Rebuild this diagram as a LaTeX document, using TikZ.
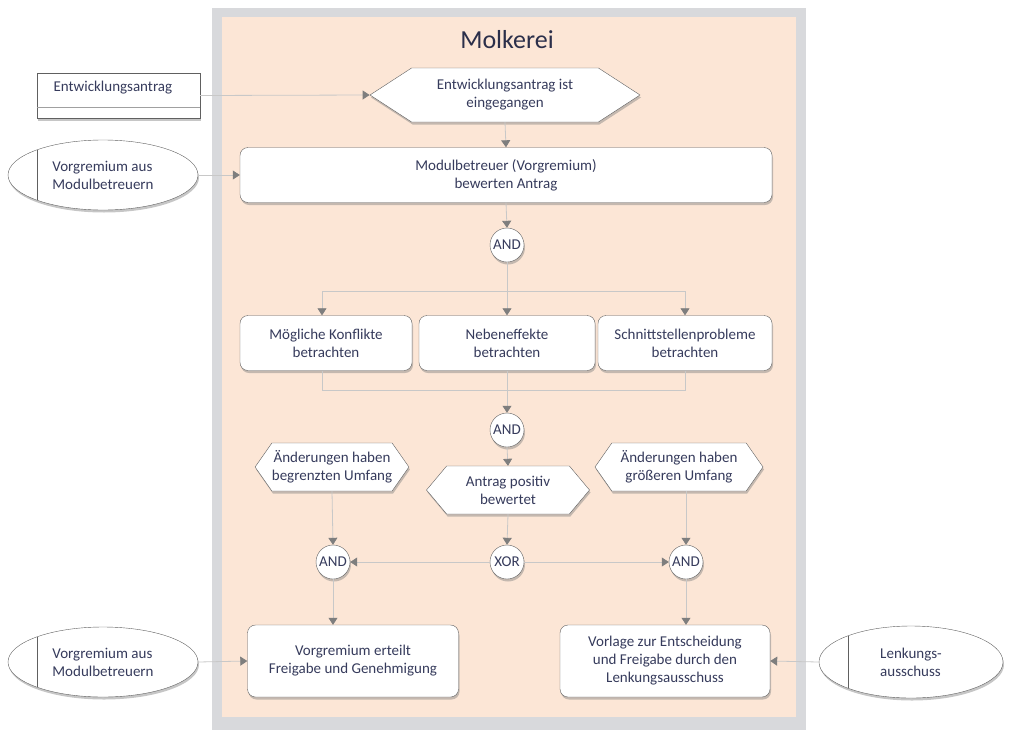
\documentclass[tikz,border=0pt]{standalone}
\usepackage{fontspec}
\setmainfont{Carlito}
\usetikzlibrary{shapes.geometric,shapes.symbols,arrows.meta,shadows,calc}
\definecolor{peach}{HTML}{FCE6D6}
\definecolor{framegray}{HTML}{D8D9DC}
\definecolor{txt}{HTML}{363B5C}
\definecolor{edgec}{HTML}{606060}
\definecolor{connc}{HTML}{C8C8C8}
\definecolor{tipc}{HTML}{7E7E7E}
\begin{document}
\begin{tikzpicture}[x=1pt,y=-1pt,
  font=\fontsize{15}{18}\selectfont, text=txt,
  shad/.style={drop shadow={opacity=0.45,shadow xshift=1pt,shadow yshift=-2.5pt}},
  proc/.style={draw=edgec, fill=white, rounded corners=8pt, align=center, shad, inner sep=2pt},
  hexa/.style={shape=signal, signal to=east and west, signal pointer angle=100, draw=edgec, fill=white, align=center, shad, inner xsep=0pt, inner ysep=1pt},
  gate/.style={circle, draw=edgec, fill=white, minimum size=34pt, inner sep=0pt, shad, font=\fontsize{15}{17}\selectfont},
  ext/.style={ellipse, draw=edgec, fill=white, minimum width=190pt, minimum height=70pt, shad, align=left},
  conn/.style={draw=connc, line width=0.8pt},
  arr/.style={conn, -{Triangle[width=9pt,length=7pt,color=tipc]}},
]
\useasboundingbox (0,0) rectangle (1011,731);
\fill[framegray] (212,8) rectangle (806,730);
\fill[peach] (222,17) rectangle (796,717);
\node[text=txt!80!black] (title) at (507,40) {\fontsize{26}{30}\selectfont Molkerei};

% external participants
\node[draw=edgec, fill=white, shad, minimum width=163pt, minimum height=45pt] (doc) at (118.5,95.5) {};
\node[anchor=west] (doclabel) at (50,88) {Entwicklungsantrag};
\draw[draw=edgec!60, line width=0.6pt] ($(doc.south west)+(0,-11)$) -- ($(doc.south east)+(0,-11)$);
\node[ext] (e1) at (103,175) {Vorgremium aus\\Modulbetreuern};
\draw[edgec, line width=0.8pt] ($(e1.center)+(-66,-25)$) -- ($(e1.center)+(-66,25)$);
\node[ext] (e2) at (103,662) {Vorgremium aus\\Modulbetreuern};
\draw[edgec, line width=0.8pt] ($(e2.center)+(-66,-25)$) -- ($(e2.center)+(-66,25)$);
\node[ext, minimum width=184pt, minimum height=72pt] (e3) at (911,662) {Lenkungs-\\ausschuss};
\draw[edgec, line width=0.8pt] ($(e3.center)+(-63,-26)$) -- ($(e3.center)+(-63,26)$);

% process
\node[hexa, signal pointer angle=66, minimum width=270pt, minimum height=54pt] (h1) at (505,95) {Entwicklungsantrag ist\\eingegangen};
\node[proc, minimum width=532pt, minimum height=55pt] (p1) at (506,175) {Modulbetreuer (Vorgremium)\\bewerten Antrag};
\node[gate] (and1) at (507,245) {AND};
\node[proc, minimum width=172pt, minimum height=55pt] (pa) at (326,343) {Mögliche Konflikte\\betrachten};
\node[proc, minimum width=176pt, minimum height=55pt] (pb) at (507,343) {Nebeneffekte\\betrachten};
\node[proc, minimum width=174pt, minimum height=55pt] (pc) at (685,343) {Schnittstellenprobleme\\betrachten};
\node[gate] (and2) at (507,430) {AND};
\node[hexa, minimum width=163pt, minimum height=48pt] (h2) at (508,490) {Antrag positiv\\bewertet};
\node[hexa, signal pointer angle=110, minimum width=153pt, minimum height=48pt] (h3) at (332,467) {Änderungen haben\\begrenzten Umfang};
\node[hexa, signal pointer angle=110, minimum width=168pt, minimum height=48pt] (h4) at (679,467) {Änderungen haben\\größeren Umfang};
\node[gate] (xor) at (507,562) {XOR};
\node[gate] (and3) at (333,562) {AND};
\node[gate] (and4) at (686,562) {AND};
\node[proc, minimum width=211pt, minimum height=72pt] (pl) at (353,661) {Vorgremium erteilt\\Freigabe und Genehmigung};
\node[proc, minimum width=210pt, minimum height=72pt] (pr) at (665,661) {Vorlage zur Entscheidung\\und Freigabe durch den\\Lenkungsausschuss};

\coordinate (split) at (507,291);
\coordinate (join) at (507,390);

% connectors
\draw[arr] (doc.east) -- (h1.west);
\draw[arr] (e1.east) -- (p1.west);
\draw[arr] (h1.south) -- (p1.north);
\draw[arr] (p1.south) -- (and1.north);
\draw[conn] (and1.south) -- (split);
\draw[arr] (split) -| ($(pa.north)+(-4,0)$);
\draw[arr] (split) -- (pb.north);
\draw[arr] (split) -| (pc.north);
\draw[conn] ($(pa.south)+(-4,0)$) |- (join);
\draw[conn] (pc.south) |- (join);
\draw[conn] (pb.south) -- (join);
\draw[arr] (join) -- (and2.north);
\draw[arr] (and2.south) -- (h2.north);
\draw[arr] (h2.south) -- (xor.north);
\draw[arr] (xor.west) -- (and3.east);
\draw[arr] (xor.east) -- (and4.west);
\draw[arr] (h3.south) -- (and3.north);
\draw[arr] (h4.south -| and4.north) -- (and4.north);
\draw[arr] (and3.south) -- (and3 |- pl.north);
\draw[arr] (and4.south) -- (and4 |- pr.north);
\draw[arr] (e2.east) -- (pl.west);
\draw[arr] (e3.west) -- (pr.east);
\end{tikzpicture}
\end{document}
